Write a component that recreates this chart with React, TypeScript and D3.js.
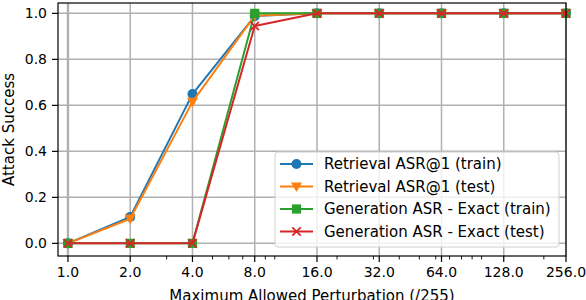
import React from "react";
import * as d3 from "d3";

const perturbations = [1, 2, 4, 8, 16, 32, 64, 128, 256];
const tickLabels = ["1.0", "2.0", "4.0", "8.0", "16.0", "32.0", "64.0", "128.0", "256.0"];
const retrievalTrain = [0.0, 0.115, 0.649, 0.988, 1.0, 1.0, 1.0, 1.0, 1.0];
const retrievalTest = [0.0, 0.107, 0.615, 0.99, 1.0, 1.0, 1.0, 1.0, 1.0];
const generationTrain = [0.0, 0.0, 0.0, 1.0, 1.0, 1.0, 1.0, 1.0, 1.0];
const generationTest = [0.0, 0.0, 0.0, 0.945, 1.0, 1.0, 1.0, 1.0, 1.0];
const yTicks = [0.0, 0.2, 0.4, 0.6, 0.8, 1.0];
const minorTicks = [3, 5, 6, 7, 9, 10, 20, 30, 40, 50, 60, 70, 80, 90, 100, 200];

const seriesNames = [
  "Retrieval ASR@1 (train)",
  "Retrieval ASR@1 (test)",
  "Generation ASR - Exact (train)",
  "Generation ASR - Exact (test)",
];
const seriesColors = ["#1f77b4", "#ff7f0e", "#2ca02c", "#d62728"];
const seriesMarkers = ["circle", "triangle", "square", "x"];
const seriesValues = [retrievalTrain, retrievalTest, generationTrain, generationTest];

const W = 586;
const H = 300;
const L = 58, R = 566, T = 3, B = 256;
const FONT = "DejaVu Sans, sans-serif";

function Marker({ kind, x, y, color }: { kind: string; x: number; y: number; color: string }) {
  if (kind === "circle") return <circle cx={x} cy={y} r={5} fill={color} />;
  if (kind === "triangle") {
    const s = 5.5;
    return <path d={`M${x - s},${y - s * 0.75}L${x + s},${y - s * 0.75}L${x},${y + s}Z`} fill={color} />;
  }
  if (kind === "square") return <rect x={x - 4.6} y={y - 4.6} width={9.2} height={9.2} fill={color} />;
  const s = 4.2;
  return (
    <path
      d={`M${x - s},${y - s}L${x + s},${y + s}M${x - s},${y + s}L${x + s},${y - s}`}
      stroke={color}
      strokeWidth={1.8}
      fill="none"
    />
  );
}

export default function App() {
  const x = d3.scaleLog().base(2).domain([Math.pow(2, -0.16), 256]).range([L, R]);
  const y = d3.scaleLinear().domain([-0.055, 1.045]).range([B, T]);
  const line = d3
    .line<number>()
    .x((_, i) => x(perturbations[i]))
    .y((d) => y(d));

  const legX = 275, legY = 152, legW = 284, legH = 95;
  const rowY = [164, 186.5, 209, 231.5];

  return (
    <svg
      width={W}
      height={H}
      style={{ position: "absolute", left: 0, top: 0, background: "#fff" }}
      fontFamily={FONT}
    >
      <rect x={0} y={0} width={W} height={H} fill="#fff" />
      {/* grid */}
      {perturbations.map((p) => (
        <line key={"gx" + p} x1={x(p)} x2={x(p)} y1={T} y2={B} stroke="#b0b0b0" strokeWidth={p === 1 ? 2.4 : 1.5} />
      ))}
      {yTicks.map((v) => (
        <line key={"gy" + v} x1={L} x2={R} y1={y(v)} y2={y(v)} stroke="#b0b0b0" strokeWidth={1.5} />
      ))}
      {/* series */}
      {seriesValues.map((vals, si) => (
        <g key={"s" + si}>
          <path d={line(vals) || ""} fill="none" stroke={seriesColors[si]} strokeWidth={2} strokeLinejoin="round" />
          {vals.map((v, i) => (
            <Marker key={i} kind={seriesMarkers[si]} x={x(perturbations[i])} y={y(v)} color={seriesColors[si]} />
          ))}
        </g>
      ))}
      {/* spines */}
      <rect x={L} y={T} width={R - L} height={B - T} fill="none" stroke="#000" strokeWidth={1.2} />
      {/* x ticks */}
      {perturbations.map((p, i) => (
        <g key={"xt" + p}>
          <line x1={x(p)} x2={x(p)} y1={B} y2={B + 6} stroke="#000" strokeWidth={1.2} />
          <text x={x(p)} y={276.5} textAnchor="middle" fontSize={14} fill="#000">
            {tickLabels[i]}
          </text>
        </g>
      ))}
      {minorTicks.map((p) => (
        <line key={"mt" + p} x1={x(p)} x2={x(p)} y1={B} y2={B + 3.5} stroke="#000" strokeWidth={0.9} />
      ))}
      {/* y ticks */}
      {yTicks.map((v) => (
        <g key={"yt" + v}>
          <line x1={L - 6} x2={L} y1={y(v)} y2={y(v)} stroke="#000" strokeWidth={1.2} />
          <text x={47} y={y(v)} dy="0.36em" textAnchor="end" fontSize={14} fill="#000">
            {v.toFixed(1)}
          </text>
        </g>
      ))}
      {/* axis labels */}
      <text x={(L + R) / 2} y={301} textAnchor="middle" fontSize={15} fill="#000">
        Maximum Allowed Perturbation (/255)
      </text>
      <text transform={`translate(14,${(T + B) / 2}) rotate(-90)`} textAnchor="middle" fontSize={15} fill="#000">
        Attack Success
      </text>
      {/* legend */}
      <rect x={legX} y={legY} width={legW} height={legH} rx={3} fill="#fff" fillOpacity={0.8} stroke="#d0d0d0" strokeWidth={1} />
      {seriesNames.map((name, si) => (
        <g key={"lg" + si}>
          <line x1={280} x2={313} y1={rowY[si]} y2={rowY[si]} stroke={seriesColors[si]} strokeWidth={2} />
          <Marker kind={seriesMarkers[si]} x={296.5} y={rowY[si]} color={seriesColors[si]} />
          <text x={324} y={rowY[si]} dy="0.36em" fontSize={15} fill="#000">
            {name}
          </text>
        </g>
      ))}
    </svg>
  );
}
